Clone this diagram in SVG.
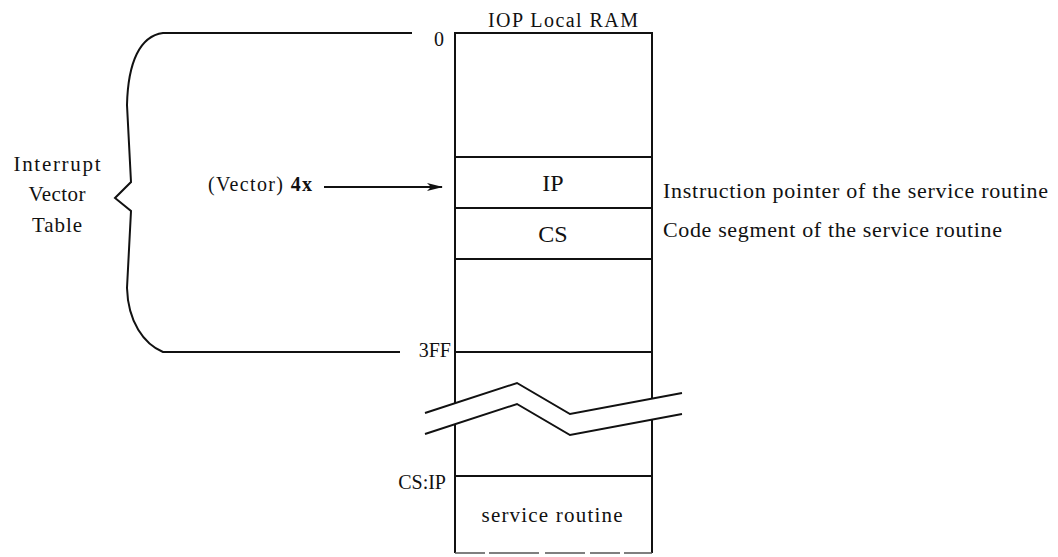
<svg xmlns="http://www.w3.org/2000/svg" width="1058" height="557" viewBox="0 0 1058 557">
  <defs>
    <style>
      .ln { fill: none; stroke: #111; stroke-width: 2; stroke-linejoin: miter; }
      .t { font-family: "Liberation Serif", "DejaVu Serif", serif; fill: #111; }
      .s19 { font-size: 19px; }
      .s20 { font-size: 20px; }
      .s21 { font-size: 21px; }
      .s22 { font-size: 22px; }
      .big { font-size: 24px; }
    </style>
    <marker id="arrow" markerWidth="16" markerHeight="10" refX="15" refY="5" orient="auto" markerUnits="userSpaceOnUse">
      <path d="M0,1 L16,5 L0,9 L4,5 Z" fill="#111"/>
    </marker>
  </defs>
  <rect width="1058" height="557" fill="#fff"/>

  <g id="brace">
    <path class="ln" d="M412,33 L163,33 C140,36 128,62 127,105 L131,182 L115,198 L131,211 L127,288 C128,322 144,344 163,352 L400,352"/>
    <text class="t s21" x="57" y="171" text-anchor="middle" textLength="87">Interrupt</text>
    <text class="t s21" x="57" y="201" text-anchor="middle" textLength="57">Vector</text>
    <text class="t s21" x="57" y="232" text-anchor="middle" textLength="50">Table</text>
  </g>

  <g id="ram-box">
    <text class="t s20" x="563" y="27" text-anchor="middle" textLength="150">IOP Local RAM</text>
    <path class="ln" d="M455,553 L455,33 L652,33 L652,553"/>
    <line x1="455" y1="553" x2="652" y2="553" stroke="#555" stroke-width="1.5" stroke-dasharray="30,4,50,6,40,5"/>
    <text class="t s20" x="444" y="46" text-anchor="end">0</text>
  </g>

  <g id="cell-ip">
    <line class="ln" x1="455" y1="157" x2="652" y2="157"/>
    <text class="t big" x="553" y="191" text-anchor="middle">IP</text>
    <text class="t s22" x="663" y="198" textLength="385">Instruction pointer of the service routine</text>
  </g>

  <g id="cell-cs">
    <line class="ln" x1="455" y1="208" x2="652" y2="208"/>
    <text class="t big" x="553" y="242" text-anchor="middle">CS</text>
    <text class="t s22" x="663" y="237" textLength="339">Code segment of the service routine</text>
  </g>

  <g id="cell-3ff">
    <line class="ln" x1="455" y1="259" x2="652" y2="259"/>
    <line class="ln" x1="455" y1="352" x2="652" y2="352"/>
    <text class="t s20" x="451" y="357" text-anchor="end">3FF</text>
  </g>

  <g id="break">
    <polygon points="425,413 517,383 570,414 682,393 682,414 570,435 517,404 425,434" fill="#fff" stroke="none"/>
    <polyline class="ln" points="425,413 517,383 570,414 682,393"/>
    <polyline class="ln" points="425,434 517,404 570,435 682,414"/>
  </g>

  <g id="cell-service">
    <line class="ln" x1="455" y1="476" x2="652" y2="476"/>
    <text class="t s20" x="446" y="489" text-anchor="end">CS:IP</text>
    <text class="t s21" x="552" y="522" text-anchor="middle" textLength="141">service routine</text>
  </g>

  <g id="connectors">
    <text class="t s20" x="208" y="191" textLength="104"><tspan>(Vector)</tspan> <tspan font-weight="bold">4x</tspan></text>
    <line class="ln" x1="324" y1="187" x2="442" y2="187" marker-end="url(#arrow)"/>
  </g>
</svg>
